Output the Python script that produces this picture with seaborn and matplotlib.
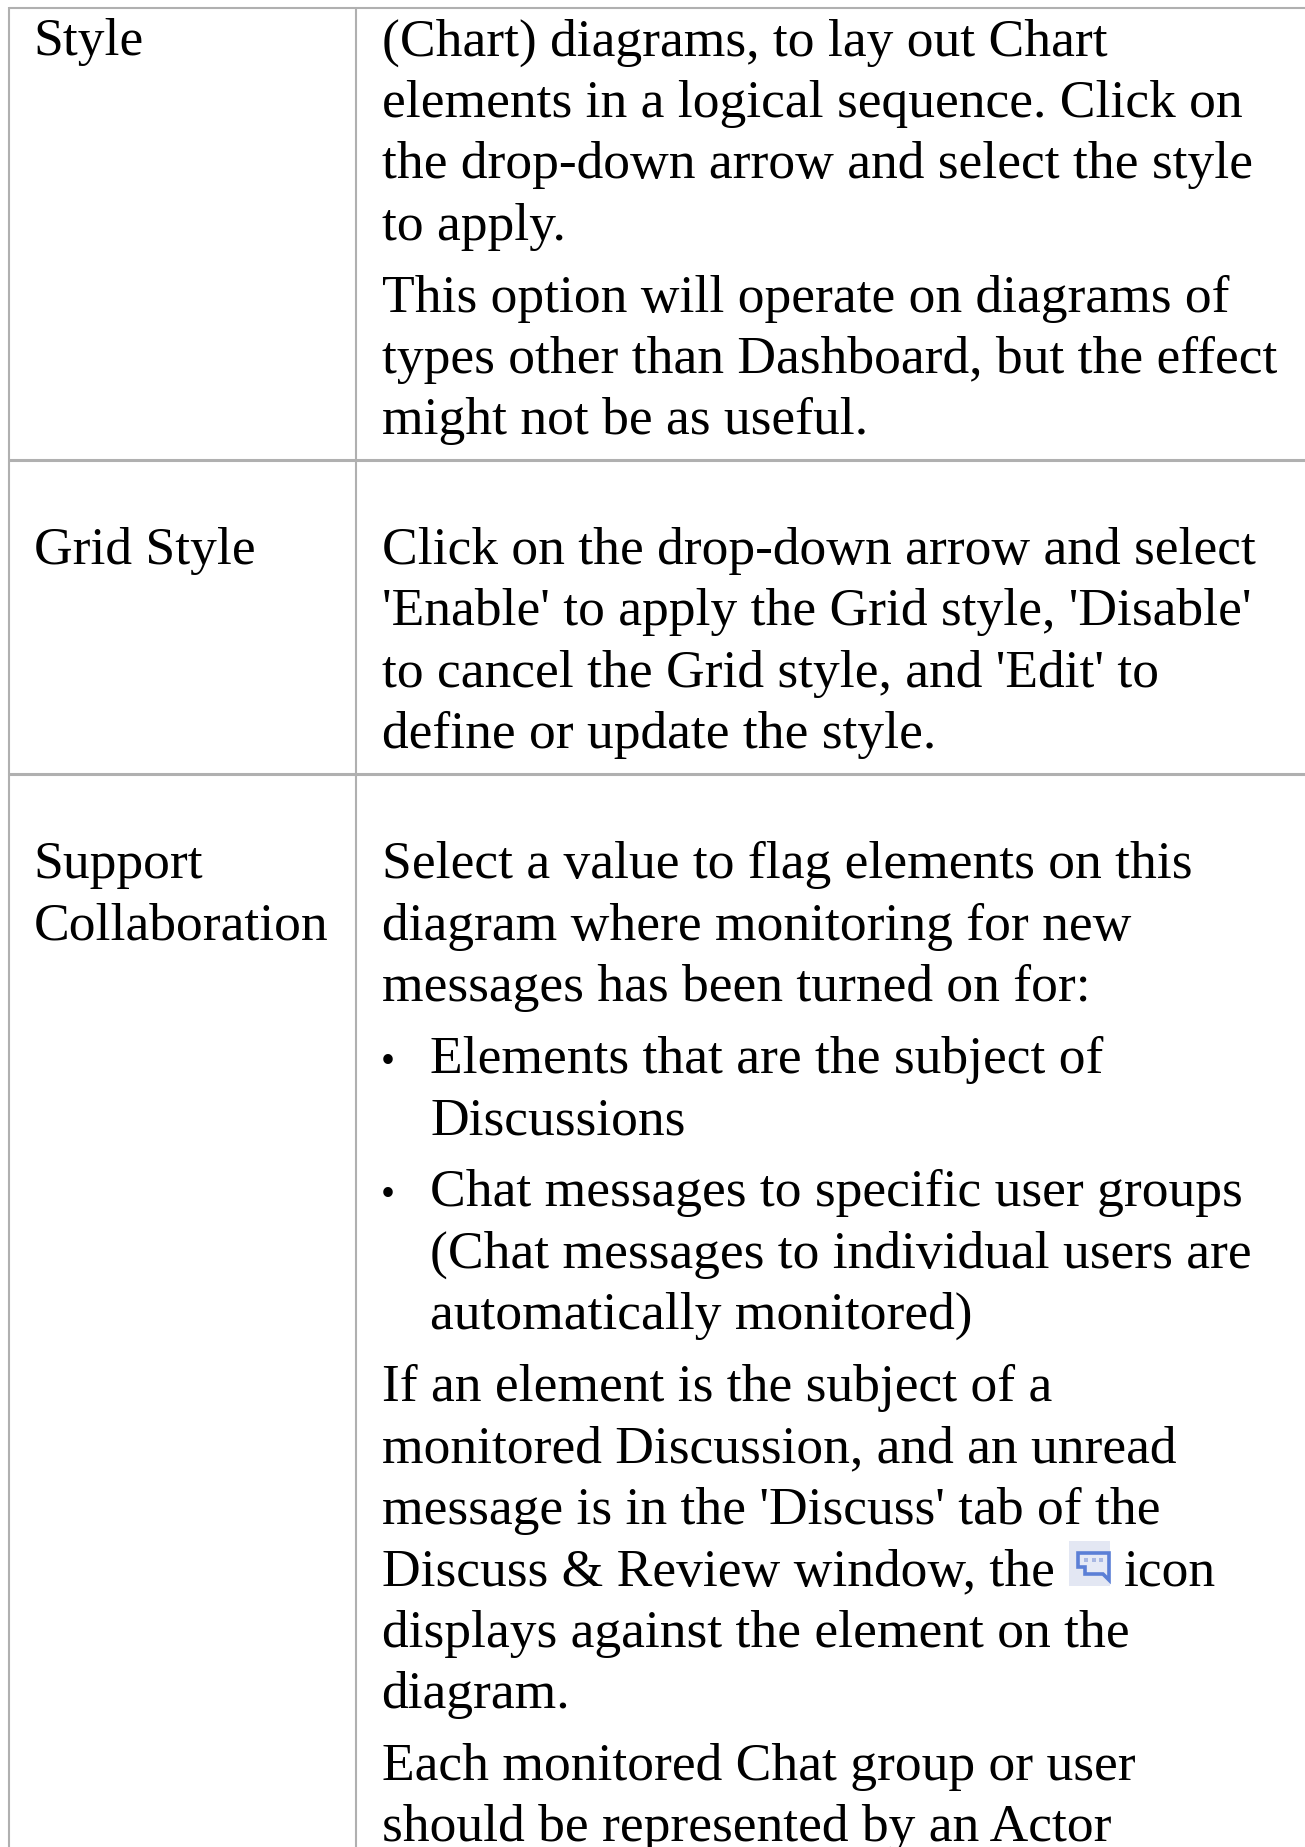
import matplotlib
matplotlib.use("Agg")
import matplotlib.pyplot as plt
from matplotlib.patches import Polygon, Rectangle
import seaborn as sns

# Table text
row_labels = [["Style"], ["Grid Style"], ["Support", "Collaboration"]]

style_paragraphs = [
    ["(Chart) diagrams, to lay out Chart",
     "elements in a logical sequence. Click on",
     "the drop-down arrow and select the style",
     "to apply."],
    ["This option will operate on diagrams of",
     "types other than Dashboard, but the effect",
     "might not be as useful."],
]
grid_paragraphs = [
    ["Click on the drop-down arrow and select",
     "'Enable' to apply the Grid style, 'Disable'",
     "to cancel the Grid style, and 'Edit' to",
     "define or update the style."],
]
support_paragraphs = [
    ["Select a value to flag elements on this",
     "diagram where monitoring for new",
     "messages has been turned on for:"],
    ["Elements that are the subject of",
     "Discussions"],
    ["Chat messages to specific user groups",
     "(Chat messages to individual users are",
     "automatically monitored)"],
    ["If an element is the subject of a",
     "monitored Discussion, and an unread",
     "message is in the 'Discuss' tab of the",
     "Discuss & Review window, the",
     "displays against the element on the",
     "diagram."],
    ["Each monitored Chat group or user",
     "should be represented by an Actor"],
]
support_bullets = [1, 2]
row_paragraphs = [style_paragraphs, grid_paragraphs, support_paragraphs]
row_bullets = [[], [], support_bullets]

sns.set_theme(style="white")
plt.rcParams["font.family"] = ["Liberation Serif", "DejaVu Serif"]

W, H = 1305, 1847
fig, ax = plt.subplots(figsize=(W / 100, H / 100), dpi=100)
fig.subplots_adjust(0, 0, 1, 1)
ax.set_xlim(0, W)
ax.set_ylim(H, 0)
ax.axis("off")
sns.despine(ax=ax, left=True, bottom=True)

# Grid lines
line_col = "#b0b0b0"
ax.vlines([9, 356], 7, H, color=line_col, lw=1.5)
ax.hlines(7.5, 9, W, color=line_col, lw=1.5)
ax.hlines([460, 774], 9, W, color=line_col, lw=2.2)

# Text
fs = 38.5
step = 61.4
para_gap = 10.5
txt_col = "black"
row_first = [55.5, 564, 878.3]
for first, label, paras, bullets in zip(row_first, row_labels, row_paragraphs, row_bullets):
    for i, txt in enumerate(label):
        ax.text(33.5, first + i * step, txt, fontsize=fs, color=txt_col, va="baseline")
    y = first
    for p, para in enumerate(paras):
        is_bullet = p in bullets
        for j, txt in enumerate(para):
            if is_bullet and j == 0:
                ax.text(381, y, "\u2022", fontsize=fs * 0.75, color=txt_col, va="baseline")
            ax.text(430 if is_bullet else 381.5, y, txt, fontsize=fs, color=txt_col, va="baseline")
            if txt.endswith("window, the"):
                ax.text(1123.5, y, "icon", fontsize=fs, color=txt_col, va="baseline")
            y += step
        y += para_gap

# Small chat icon in the Discuss line
ax.add_patch(Rectangle((1069, 1541), 41, 45, fc="#e3e7f3", ec="none"))
ax.add_patch(Polygon([(1078, 1553), (1109, 1553), (1109, 1580), (1103, 1574), (1085, 1574), (1085, 1567), (1078, 1567)],
                     closed=True, fc="#e6eaf6", ec="#5b7fd6", lw=2.6))
ax.add_patch(Rectangle((1084, 1558), 4, 3.5, fc="#a9b8e3", ec="none"))
ax.add_patch(Rectangle((1092, 1558), 4, 3.5, fc="#a9b8e3", ec="none"))
ax.add_patch(Rectangle((1099, 1558), 4, 3.5, fc="#a9b8e3", ec="none"))

fig.savefig("out.png", dpi=100, facecolor="white")
